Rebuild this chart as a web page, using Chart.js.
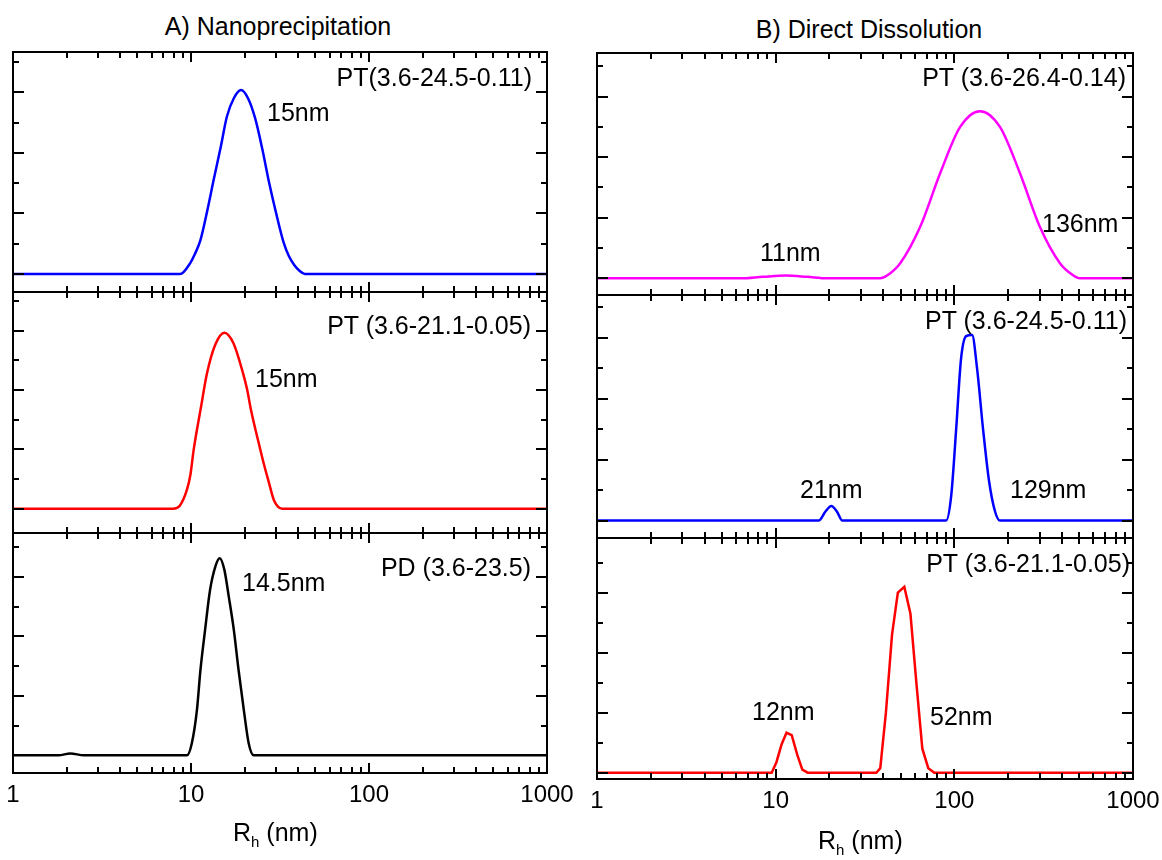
<!DOCTYPE html>
<html><head><meta charset="utf-8">
<script src="https://cdn.jsdelivr.net/npm/chart.js@4.4.0/dist/chart.umd.min.js"></script>
<style>
body{margin:0;background:#fff;width:1162px;height:860px;overflow:hidden;position:relative;font-family:"Liberation Sans",Arial,sans-serif;}
canvas{position:absolute;}
.t{position:absolute;white-space:nowrap;font-size:25px;line-height:25px;color:#000;}
.t sub{font-size:15px;vertical-align:-6px;line-height:0;}
</style></head><body>
<script>
// ---------- data ----------
const xTickValues = [1, 10, 100, 1000];
const xTickLabels = ['1', '10', '100', '1000'];
const xMinorFactors = [2, 3, 4, 5, 6, 7, 8, 9];
const yTickValues = [0, 1, 2, 3, 4, 5, 6, 7];

// A) Nanoprecipitation
const a1X = [1, 3, 6, 8.7, 9.9, 10.5, 11.3, 12.3, 13.4, 14.7, 15.9, 17.4, 19.1, 20.9, 22.9, 25.1, 27.5, 30.1, 33.1, 35.4, 38, 40.8, 43.6, 100, 1000];
const a1Y = [0, 0, 0, 0, 0.36, 0.65, 1.12, 2.05, 3.1, 4.2, 5.19, 5.8, 6.07, 5.8, 5.15, 4.15, 3.0, 2.0, 1.05, 0.6, 0.3, 0.1, 0, 0, 0];
const a2X = [1, 5, 7.94, 8.65, 9.48, 9.93, 10.35, 11.4, 12.3, 13.7, 15.4, 17.3, 19.4, 20.7, 21.7, 24.4, 25.6, 27.4, 29.2, 30.7, 32.5, 100, 1000];
const a2Y = [0, 0, 0, 0.1, 0.63, 1.15, 1.98, 3.45, 4.56, 5.53, 5.93, 5.58, 4.66, 4.0, 3.34, 2.04, 1.53, 0.88, 0.29, 0.08, 0, 0, 0];
const a3X = [1, 1.8, 2.1, 2.5, 9.5, 10.1, 10.8, 11.3, 12.0, 12.8, 13.7, 14.5, 15.4, 16.3, 17.4, 18.5, 19.8, 21.1, 22.5, 1000];
const a3Y = [0, 0, 0.06, 0, 0, 0.4, 1.53, 2.87, 4.22, 5.57, 6.35, 6.63, 6.24, 5.34, 4.22, 2.87, 1.53, 0.4, 0, 0];

// B) Direct Dissolution
const b1X = [1, 4, 6.4, 8.5, 11.4, 15, 19.4, 30, 38.5, 42.2, 49.8, 64.4, 83.3, 107.8, 139.3, 180, 233, 301, 390, 462, 504, 1000];
const b1Y = [0, 0, 0, 0.05, 0.09, 0.05, 0, 0, 0, 0.1, 0.5, 1.7, 3.47, 5.0, 5.52, 5.0, 3.47, 1.7, 0.5, 0.1, 0, 0];
const b2X = [1, 10, 17.4, 19, 20.5, 22, 23.6, 80, 90, 96, 102.4, 109, 116.4, 125.7, 134, 144.8, 156.4, 169, 180, 1000];
const b2Y = [0, 0, 0, 0.3, 0.48, 0.3, 0, 0, 0, 0.8, 3.0, 5.3, 6.05, 6.09, 5.0, 3.0, 1.3, 0.3, 0, 0];
const b3X = [1, 9.5, 10.1, 10.8, 11.5, 12.3, 13.2, 14.1, 15.1, 36.6, 38.5, 41.4, 44.8, 48.3, 52.5, 56.8, 61.3, 66.2, 71.5, 77.3, 1000];
const b3Y = [0, 0, 0.35, 0.95, 1.33, 1.25, 0.6, 0.1, 0, 0, 0.15, 2.0, 4.6, 6.0, 6.19, 5.3, 3.0, 0.8, 0.15, 0, 0];

// ---------- layout ----------
const FONT = '"Liberation Sans", Arial, sans-serif';
const PL = 14, PR = 34, PT = 8, PB = 8, XH = 50;

const panels = [
  {xs: a1X, ys: a1Y, color: '#0000ff', l: 13, r: 547, t: 52, b: 292, min: -0.594, max: 7.327, axis: false, smooth: true},
  {xs: a2X, ys: a2Y, color: '#ff0000', l: 13, r: 547, t: 292, b: 533, min: -0.82, max: 7.30, axis: false, smooth: true},
  {xs: a3X, ys: a3Y, color: '#000000', l: 13, r: 547, t: 533, b: 773, min: -0.596, max: 7.48, axis: true, smooth: true},
  {xs: b1X, ys: b1Y, color: '#ff00ff', l: 597, r: 1133, t: 53, b: 295, min: -0.55, max: 7.44, axis: false, smooth: true},
  {xs: b2X, ys: b2Y, color: '#0000ff', l: 597, r: 1133, t: 295, b: 538, min: -0.57, max: 7.40, axis: false, smooth: true},
  {xs: b3X, ys: b3Y, color: '#ff0000', l: 597, r: 1133, t: 538, b: 779, min: -0.21, max: 7.82, axis: true, smooth: false},
];

const framePlugin = {
  id: 'frameTicks',
  afterDatasetsDraw(chart) {
    const {ctx, chartArea: a, scales: {x, y}} = chart;
    ctx.save();
    ctx.strokeStyle = '#000';
    ctx.lineWidth = 2;
    ctx.beginPath();
    const xt = [];
    for (let d = 1; d <= 1000; d *= 10) {
      xt.push([d, 10]);
      if (d < 1000) xMinorFactors.forEach(f => xt.push([d * f, 6]));
    }
    xt.forEach(([v, L]) => {
      const px = Math.round(x.getPixelForValue(v));
      ctx.moveTo(px, a.top); ctx.lineTo(px, a.top + L);
      ctx.moveTo(px, a.bottom); ctx.lineTo(px, a.bottom - L);
    });
    yTickValues.forEach(v => {
      const py = Math.round(y.getPixelForValue(v));
      const L = v % 2 === 0 ? 11 : 6;
      ctx.moveTo(a.left, py); ctx.lineTo(a.left + L, py);
      ctx.moveTo(a.right, py); ctx.lineTo(a.right - L, py);
    });
    ctx.stroke();
    ctx.strokeRect(a.left, a.top, a.right - a.left, a.bottom - a.top);
    ctx.restore();
  }
};

panels.forEach(p => {
  const c = document.createElement('canvas');
  const w = p.r - p.l + PL + PR;
  const h = p.b - p.t + PT + (p.axis ? XH : PB);
  c.width = w; c.height = h;
  c.style.left = (p.l - PL) + 'px';
  c.style.top = (p.t - PT) + 'px';
  c.style.width = w + 'px'; c.style.height = h + 'px';
  document.body.appendChild(c);
  new Chart(c, {
    type: 'line',
    data: {
      datasets: [{
        data: p.xs.map((v, i) => ({x: v, y: p.ys[i]})),
        borderColor: p.color,
        borderWidth: 2.5,
        pointRadius: 0,
        fill: false,
        tension: p.smooth ? 0.4 : 0,
        cubicInterpolationMode: p.smooth ? 'monotone' : 'default',
        clip: 4
      }]
    },
    options: {
      responsive: false,
      animation: false,
      events: [],
      devicePixelRatio: 1,
      layout: {padding: {left: PL, right: PR, top: PT, bottom: p.axis ? 0 : PB}},
      plugins: {legend: {display: false}, tooltip: {enabled: false}},
      scales: {
        x: {
          type: 'logarithmic', min: 1, max: 1000,
          display: p.axis,
          grid: {display: false, drawTicks: false},
          border: {display: false},
          afterBuildTicks: s => { s.ticks = xTickValues.map(v => ({value: v})); },
          afterFit: s => {
            s.paddingLeft = 0; s.paddingRight = 0;
            s.height = p.axis ? XH : 0;
          },
          ticks: {
            autoSkip: false, maxRotation: 0, padding: 8, color: '#000',
            font: {family: FONT, size: 24},
            callback: v => { const i = xTickValues.indexOf(v); return i >= 0 ? xTickLabels[i] : ''; }
          }
        },
        y: {display: false, min: p.min, max: p.max}
      }
    },
    plugins: [framePlugin]
  });
});

// ---------- texts ----------
function label(html, x, cy, align) {
  const d = document.createElement('div');
  d.className = 't';
  d.innerHTML = html;
  d.style.top = (cy - 12) + 'px';
  if (align === 'right') d.style.right = (1162 - x) + 'px';
  else if (align === 'center') { d.style.left = (x - 300) + 'px'; d.style.width = '600px'; d.style.textAlign = 'center'; }
  else d.style.left = x + 'px';
  document.body.appendChild(d);
}
label('A) Nanoprecipitation', 278, 26, 'center');
label('B) Direct Dissolution', 869, 29, 'center');

label('PT(3.6-24.5-0.11)', 532, 77, 'right');
label('15nm', 267, 112);
label('PT (3.6-21.1-0.05)', 531, 325, 'right');
label('15nm', 255, 378);
label('PD (3.6-23.5)', 531, 567, 'right');
label('14.5nm', 242, 582);

label('PT (3.6-26.4-0.14)', 1126, 77, 'right');
label('11nm', 760, 252);
label('136nm', 1042, 223);
label('PT (3.6-24.5-0.11)', 1127, 320, 'right');
label('21nm', 800, 489);
label('129nm', 1010, 489);
label('PT (3.6-21.1-0.05)', 1130, 563, 'right');
label('12nm', 752, 711);
label('52nm', 930, 716);

label('R<sub>h</sub> (nm)', 233, 832);
label('R<sub>h</sub> (nm)', 818, 840);
</script>
</body></html>
